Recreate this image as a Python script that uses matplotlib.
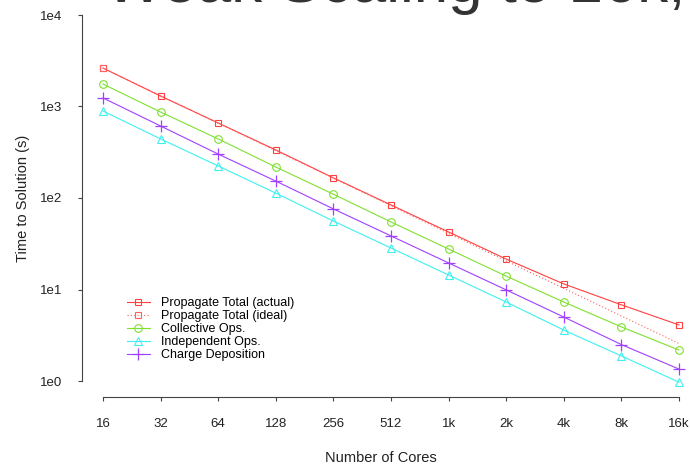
import matplotlib
matplotlib.use("Agg")
import matplotlib.pyplot as plt
from matplotlib.ticker import FixedLocator, NullLocator

plt.rcParams['font.family'] = ['Liberation Sans', 'DejaVu Sans']

# core counts and timings (seconds)
cores = ['16', '32', '64', '128', '256', '512', '1k', '2k', '4k', '8k', '16k']
propagate_actual = [2630, 1300, 660, 335, 166, 84, 42.5, 21.5, 11.5, 6.8, 4.1]
propagate_ideal = [2630, 1315, 657.5, 328.8, 164.4, 82.2, 41.1, 20.5, 10.3, 5.14, 2.57]
collective_ops = [1760, 870, 442, 218, 110, 54.7, 27.7, 14.0, 7.3, 3.9, 2.18]
independent_ops = [893, 442, 224, 113, 56, 28.4, 14.4, 7.3, 3.6, 1.88, 0.97]
charge_deposition = [1240, 612, 302, 153, 76, 38.5, 19.5, 9.9, 5.0, 2.5, 1.35]

W, H = 690, 465
fig = plt.figure(figsize=(W / 100, H / 100), dpi=100)
ax = fig.add_axes([82 / W, 1 - 381 / H, (679 - 82) / W, (381 - 15) / H])

x = list(range(len(cores)))
lw = 0.8
ax.plot(x, propagate_actual, color='#ff4040', lw=lw, marker='s', ms=5,
        mfc='none', mew=0.8, clip_on=False, label='Propagate Total (actual)')
ax.plot(x, propagate_ideal, color='#ff6060', lw=0.8, ls=(0, (1, 2)), marker='s',
        ms=5, mfc='none', mew=0.8, markevery=[0], clip_on=False,
        label='Propagate Total (ideal)')
ax.plot(x, collective_ops, color='#80e030', lw=lw, marker='o', ms=5.5,
        mfc='none', mew=0.8, clip_on=False, label='Collective Ops.')
ax.plot(x, independent_ops, color='#40f0f0', lw=lw, marker='^', ms=6,
        mfc='none', mew=0.8, clip_on=False, label='Independent Ops.')
ax.plot(x, charge_deposition, color='#a040ff', lw=lw, marker='+', ms=8,
        mew=0.9, clip_on=False, label='Charge Deposition')

ax.set_yscale('log')
ax.set_ylim(1, 1e4)
ax.set_xlim(-(103 - 82) / 57.6, 10)

ax.yaxis.set_major_locator(FixedLocator([1, 10, 100, 1000, 10000]))
ax.yaxis.set_minor_locator(NullLocator())
ax.set_yticklabels(['1e0', '1e1', '1e2', '1e3', '1e4'])
ax.set_xticks(x)
ax.set_xticklabels(cores)

# detached axes, gnuplot style
for s in ('top', 'right'):
    ax.spines[s].set_visible(False)
ax.spines['left'].set_bounds(1, 1e4)
ax.spines['bottom'].set_bounds(0, 10)
ax.spines['bottom'].set_position(('outward', 11.5))
for s in ('left', 'bottom'):
    ax.spines[s].set_color('#444444')
    ax.spines[s].set_linewidth(0.8)

ax.tick_params(axis='both', direction='out', length=3, width=0.8,
               color='#444444', labelsize=9.5, labelcolor='#222222')
ax.tick_params(axis='x', pad=12)
ax.tick_params(axis='y', pad=11)

ax.set_xlabel('Number of Cores', fontsize=10.5, color='#222222', labelpad=15)
ax.set_ylabel('Time to Solution (s)', fontsize=10.5, color='#222222', labelpad=7)

ax.legend(loc='upper left', bbox_to_anchor=(127 / W, 1 - 297 / H),
          bbox_transform=fig.transFigure, frameon=False, fontsize=9,
          handlelength=1.8, handletextpad=0.9, labelspacing=0.08,
          borderaxespad=0, borderpad=0)

# slide heading running off the top edge
fig.text(105 / W, 1 - 2 / H, 'Weak Scaling to 16k,', fontsize=44.6,
         color='#333333', va='baseline', ha='left')

fig.savefig('out.png', dpi=100)
